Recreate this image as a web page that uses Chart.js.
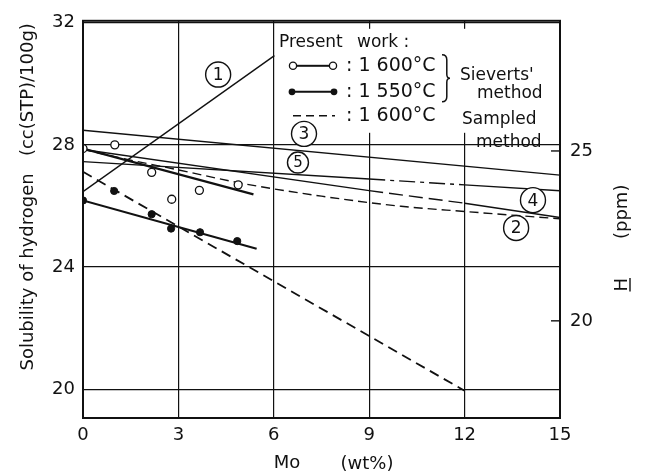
<!DOCTYPE html>
<html>
<head>
<meta charset="utf-8">
<script src="https://cdn.jsdelivr.net/npm/chart.js@4/dist/chart.umd.min.js"></script>
<style>
  html, body { margin: 0; padding: 0; background: #fff; }
  #wrap { width: 647px; height: 474px; }
</style>
</head>
<body>
<div id="wrap"><canvas id="c" width="647" height="474"></canvas></div>
<script>
// Hydrogen solubility in liquid Fe–Mo alloys, cc(STP)/100g against Mo (wt%)

// Present work, Sieverts' method, 1600 °C
const mo1600 = [0, 1.0, 2.16, 2.79, 3.66, 4.88];
const h1600 = [27.88, 28.0, 27.1, 26.22, 26.51, 26.69];
const fit1600Mo = [0, 5.36];
const fit1600H = [27.88, 26.38];

// Present work, Sieverts' method, 1550 °C
const mo1550 = [0, 0.98, 2.16, 2.77, 3.68, 4.85];
const h1550 = [26.18, 26.49, 25.73, 25.26, 25.14, 24.85];
const fit1550Mo = [0, 5.46];
const fit1550H = [26.18, 24.6];

// Present work, sampled method, 1600 °C
const sampledMo = [0, 12];
const sampledH = [27.12, 19.95];

// Literature curves (1)–(5)
const ref1Mo = [0, 6.02];
const ref1H = [26.47, 30.92];
const ref2Mo = [0, 1.5, 3, 5, 7.5, 10, 12, 15];
const ref2H = [27.85, 27.5, 27.18, 26.74, 26.32, 25.99, 25.82, 25.58];
const ref3Mo = [0, 15];
const ref3H = [28.48, 27.01];
const ref4Mo = [0, 9, 12, 15];
const ref4H = [27.85, 26.5, 26.09, 25.62];
const ref5Mo = [0, 9, 12, 15];
const ref5H = [27.45, 26.88, 26.69, 26.5];

// Curve numbers and where they sit (Mo wt%, cc/100g)
const curveNames = ['1', '2', '3', '4', '5'];
const curveNameMo = [4.25, 13.62, 6.95, 14.15, 6.76];
const curveNameH = [30.30, 25.28, 28.36, 26.19, 27.42];

// Axis ticks
const moTicks = [0, 3, 6, 9, 12, 15];
const ccTicks = [20, 24, 28, 32];
const ppmTicks = [20, 25];

const CC_PER_PPM = 1.112;
const CC_MIN = 19.06, CC_MAX = 32.06;
const FONT = '"DejaVu Sans", sans-serif';
const INK = '#111';

const pts = (xs, ys) => xs.map((x, i) => ({ x, y: ys[i] }));

function curve(xs, ys, extra) {
  return Object.assign({
    data: pts(xs, ys),
    showLine: true,
    borderColor: INK,
    borderWidth: 1.4,
    pointRadius: 0,
    fill: false
  }, extra || {});
}

// segments between Mo = 9 and 12 are broken on curves (4) and (5)
const brokenMid = pattern => ({
  borderDash: c => (c.p0.parsed.x >= 9 && c.p1.parsed.x <= 12) ? pattern : undefined
});

const datasets = [
  { data: pts(mo1600, h1600), pointRadius: 4, pointBackgroundColor: '#fff',
    pointBorderColor: INK, pointBorderWidth: 1.3, showLine: false },
  { data: pts(mo1550, h1550), pointRadius: 3.6, pointBackgroundColor: INK,
    pointBorderColor: INK, pointBorderWidth: 1, showLine: false },
  curve(fit1600Mo, fit1600H, { borderWidth: 2.2 }),
  curve(fit1550Mo, fit1550H, { borderWidth: 2.2 }),
  curve(sampledMo, sampledH, { borderWidth: 1.8, borderDash: [10, 6] }),
  curve(ref1Mo, ref1H),
  curve(ref2Mo, ref2H, { borderDash: [9, 5], cubicInterpolationMode: 'monotone' }),
  curve(ref3Mo, ref3H),
  curve(ref4Mo, ref4H, { segment: brokenMid([14, 6]) }),
  curve(ref5Mo, ref5H, { segment: brokenMid([16, 5, 4, 5]) })
];

function drawBrace(ctx, x, y0, y1, w) {
  const ym = (y0 + y1) / 2;
  ctx.beginPath();
  ctx.moveTo(x, y0);
  ctx.quadraticCurveTo(x + w * 0.6, y0, x + w * 0.6, y0 + 5);
  ctx.lineTo(x + w * 0.6, ym - 4);
  ctx.quadraticCurveTo(x + w * 0.6, ym, x + w, ym);
  ctx.quadraticCurveTo(x + w * 0.6, ym, x + w * 0.6, ym + 4);
  ctx.lineTo(x + w * 0.6, y1 - 5);
  ctx.quadraticCurveTo(x + w * 0.6, y1, x, y1);
  ctx.stroke();
}

const decor = {
  id: 'decor',
  beforeDatasetsDraw(chart) {
    const { ctx, chartArea: ca } = chart;
    ctx.save();
    // clear panel for the key
    ctx.fillStyle = '#fff';
    ctx.fillRect(ca.left + 194, ca.top + 8, ca.right - ca.left - 200, 104);
    // inward ticks of the ppm scale
    const yr = chart.scales.yR;
    ctx.strokeStyle = INK;
    ctx.lineWidth = 1.4;
    ppmTicks.forEach(v => {
      const y = yr.getPixelForValue(v);
      ctx.beginPath();
      ctx.moveTo(ca.right - 9, y);
      ctx.lineTo(ca.right, y);
      ctx.stroke();
    });
    ctx.restore();
  },
  afterDatasetsDraw(chart) {
    const { ctx, chartArea: ca, scales } = chart;
    ctx.save();
    ctx.strokeStyle = INK;
    ctx.fillStyle = INK;

    // numbered curve tags
    curveNames.forEach((t, i) => {
      const x = scales.x.getPixelForValue(curveNameMo[i]);
      const y = scales.y.getPixelForValue(curveNameH[i]);
      const r = t === '5' ? 10.5 : 12.5;
      ctx.beginPath();
      ctx.arc(x, y, r, 0, Math.PI * 2);
      ctx.fillStyle = '#fff';
      ctx.fill();
      ctx.lineWidth = 1.4;
      ctx.stroke();
      ctx.fillStyle = INK;
      ctx.font = (t === '5' ? '15px ' : '17px ') + FONT;
      ctx.textAlign = 'center';
      ctx.textBaseline = 'middle';
      ctx.fillText(t, x, y + 1);
    });

    // key
    const ox = ca.left, oy = ca.top;
    ctx.textAlign = 'left';
    ctx.textBaseline = 'middle';
    ctx.font = '17px ' + FONT;
    ctx.fillText('Present', ox + 196, oy + 22);
    ctx.fillText('work :', ox + 274, oy + 22);

    ctx.lineWidth = 2;
    // row 1: open circles
    ctx.beginPath(); ctx.moveTo(ox + 214, oy + 45); ctx.lineTo(ox + 246, oy + 45); ctx.stroke();
    [210, 250].forEach(dx => {
      ctx.beginPath(); ctx.arc(ox + dx, oy + 45, 3.6, 0, Math.PI * 2);
      ctx.fillStyle = '#fff'; ctx.fill(); ctx.lineWidth = 1.3; ctx.stroke();
    });
    ctx.fillStyle = INK;
    // row 2: filled dots
    ctx.lineWidth = 2;
    ctx.beginPath(); ctx.moveTo(ox + 209, oy + 71); ctx.lineTo(ox + 251, oy + 71); ctx.stroke();
    [209, 251].forEach(dx => {
      ctx.beginPath(); ctx.arc(ox + dx, oy + 71, 3.4, 0, Math.PI * 2); ctx.fill();
    });
    // row 3: dashes
    ctx.lineWidth = 1.6;
    ctx.setLineDash([8, 5]);
    ctx.beginPath(); ctx.moveTo(ox + 210, oy + 95); ctx.lineTo(ox + 252, oy + 95); ctx.stroke();
    ctx.setLineDash([]);

    ctx.font = '19px ' + FONT;
    ctx.fillText(': 1 600°C', ox + 263, oy + 45);
    ctx.fillText(': 1 550°C', ox + 263, oy + 71);
    ctx.fillText(': 1 600°C', ox + 263, oy + 95);

    ctx.lineWidth = 1.5;
    drawBrace(ctx, ox + 359, oy + 34, oy + 81, 8);

    ctx.font = '17px ' + FONT;
    ctx.fillText("Sieverts'", ox + 377, oy + 55);
    ctx.fillText('method', ox + 394, oy + 73);
    ctx.fillText('Sampled', ox + 379, oy + 99);
    ctx.fillText('method', ox + 393, oy + 122);

    // plot frame
    ctx.lineWidth = 2;
    ctx.strokeRect(ca.left, ca.top, ca.right - ca.left, ca.bottom - ca.top);
    ctx.restore();
  },
  afterDraw(chart) {
    const { ctx, chartArea: ca } = chart;
    ctx.save();
    ctx.fillStyle = INK;
    ctx.font = '18px ' + FONT;
    ctx.textBaseline = 'alphabetic';

    // left title
    ctx.save();
    ctx.translate(ca.left - 50, ca.top + 176);
    ctx.rotate(-Math.PI / 2);
    ctx.textAlign = 'center';
    ctx.fillText('Solubility of hydrogen   (cc(STP)/100g)', 0, 0);
    ctx.restore();

    // right title
    ctx.save();
    ctx.translate(ca.right + 67, ca.top + 191);
    ctx.rotate(-Math.PI / 2);
    ctx.textAlign = 'center';
    ctx.fillText('(ppm)', 0, 0);
    ctx.restore();
    ctx.save();
    ctx.translate(ca.right + 67, ca.top + 264);
    ctx.rotate(-Math.PI / 2);
    ctx.textAlign = 'center';
    ctx.fillText('H', 0, 0);
    const w = ctx.measureText('H').width;
    ctx.lineWidth = 1.4;
    ctx.strokeStyle = INK;
    ctx.beginPath(); ctx.moveTo(-w / 2, 3); ctx.lineTo(w / 2, 3); ctx.stroke();
    ctx.restore();

    // bottom title
    ctx.textAlign = 'center';
    ctx.textBaseline = 'middle';
    ctx.fillText('Mo', ca.left + 204, ca.bottom + 45);
    ctx.fillText('(wt%)', ca.left + 284, ca.bottom + 46);
    ctx.restore();
  }
};

new Chart(document.getElementById('c'), {
  type: 'scatter',
  data: { datasets },
  plugins: [decor],
  options: {
    responsive: false,
    devicePixelRatio: 1,
    animation: false,
    layout: { padding: { top: 16, left: 0, right: 0, bottom: 0 } },
    plugins: { legend: { display: false }, tooltip: { enabled: false } },
    scales: {
      x: {
        type: 'linear', min: 0, max: 15,
        afterBuildTicks: s => { s.ticks = moTicks.map(v => ({ value: v })); },
        afterFit: s => { s.height = 56; },
        ticks: { color: INK, font: { family: FONT, size: 18 }, padding: 7 },
        grid: { color: INK, lineWidth: 1.2, drawTicks: false },
        border: { display: false }
      },
      y: {
        type: 'linear', position: 'left', min: CC_MIN, max: CC_MAX,
        afterBuildTicks: s => { s.ticks = ccTicks.map(v => ({ value: v })); },
        afterFit: s => { s.width = 83; },
        ticks: { color: INK, font: { family: FONT, size: 18 }, padding: 8 },
        grid: { color: INK, lineWidth: 1.2, drawTicks: false },
        border: { display: false }
      },
      yR: {
        type: 'linear', position: 'right', min: CC_MIN / CC_PER_PPM, max: CC_MAX / CC_PER_PPM,
        afterBuildTicks: s => { s.ticks = ppmTicks.map(v => ({ value: v })); },
        afterFit: s => { s.width = 87; },
        ticks: { color: INK, font: { family: FONT, size: 18 }, padding: 10 },
        grid: { display: false, drawTicks: false },
        border: { display: false }
      }
    }
  }
});
</script>
</body>
</html>
